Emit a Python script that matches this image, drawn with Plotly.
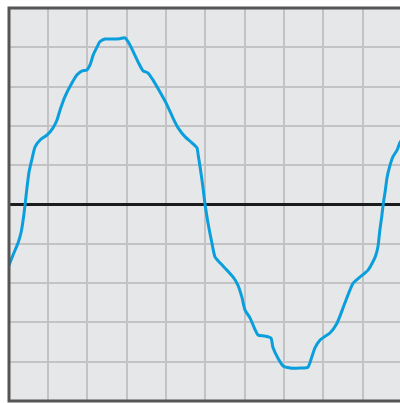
import plotly.graph_objects as go

# Waveform sampled over ten horizontal divisions (time) and +/-5 vertical divisions (amplitude)
t_div = [0.00, 0.11, 0.24, 0.32, 0.37, 0.42, 0.47, 0.52, 0.60, 0.67, 0.80, 0.98,
         1.13, 1.23, 1.31, 1.43, 1.61, 1.74, 1.87, 1.99, 2.07, 2.15, 2.25, 2.32,
         2.45, 2.66, 2.83, 2.96, 3.04, 3.16, 3.29, 3.42, 3.54, 3.67, 3.85, 4.03,
         4.18, 4.31, 4.49, 4.66, 4.79, 4.82, 4.87, 4.94, 4.99, 5.07, 5.17, 5.25,
         5.38, 5.55, 5.71, 5.83, 5.93, 6.01, 6.14, 6.27, 6.34, 6.52, 6.67, 6.72,
         6.85, 6.98, 7.16, 7.41, 7.61, 7.71, 7.79, 7.92, 8.05, 8.17, 8.35, 8.55,
         8.76, 8.93, 9.14, 9.32, 9.39, 9.44, 9.49, 9.53, 9.58, 9.62, 9.68, 9.77,
         9.88, 9.95, 10.03]
amp_div = [-1.57, -1.29, -0.98, -0.70, -0.39, 0.01, 0.45, 0.83, 1.18, 1.46, 1.64, 1.77,
           1.95, 2.15, 2.41, 2.74, 3.09, 3.30, 3.40, 3.42, 3.55, 3.80, 4.01, 4.14,
           4.21, 4.21, 4.22, 4.24, 4.14, 3.91, 3.63, 3.40, 3.35, 3.17, 2.86, 2.53,
           2.20, 1.95, 1.72, 1.57, 1.44, 1.26, 0.95, 0.45, 0.04, -0.47, -0.98, -1.34,
           -1.49, -1.67, -1.85, -2.05, -2.35, -2.68, -2.89, -3.19, -3.32, -3.35, -3.40, -3.63,
           -3.91, -4.11, -4.16, -4.16, -4.14, -3.88, -3.65, -3.45, -3.35, -3.27, -3.02, -2.51,
           -2.00, -1.85, -1.67, -1.34, -1.08, -0.65, -0.29, 0.04, 0.37, 0.67, 0.93, 1.21,
           1.39, 1.57, 1.69]

x_ticks = list(range(0, 11))
y_ticks = list(range(-5, 6))

fig = go.Figure()
fig.add_trace(go.Scatter(
    x=t_div, y=amp_div, mode="lines",
    line=dict(color="#0a9fdc", width=3, shape="spline", smoothing=0.6),
    hoverinfo="skip",
))

fig.update_layout(
    width=400, height=403,
    margin=dict(l=9, r=0, t=8, b=2, pad=0),
    paper_bgcolor="white",
    plot_bgcolor="#e6e7e9",
    showlegend=False,
    xaxis=dict(range=[0.01, 9.952], tickvals=x_ticks, showticklabels=False,
               showgrid=True, gridcolor="#c3c3c5", gridwidth=2,
               zeroline=False, showline=False, ticks="", fixedrange=True),
    yaxis=dict(range=[-5, 5], tickvals=y_ticks, showticklabels=False,
               showgrid=True, gridcolor="#c3c3c5", gridwidth=2,
               zeroline=True, zerolinecolor="#1c1c1c", zerolinewidth=3,
               showline=False, ticks="", fixedrange=True),
    shapes=[dict(type="rect", xref="paper", yref="paper",
                 x0=0, x1=1.05, y0=0, y1=1,
                 line=dict(color="#555555", width=3), fillcolor="rgba(0,0,0,0)",
                 layer="above")],
)

fig.write_html("out.html", config={"displayModeBar": False})
